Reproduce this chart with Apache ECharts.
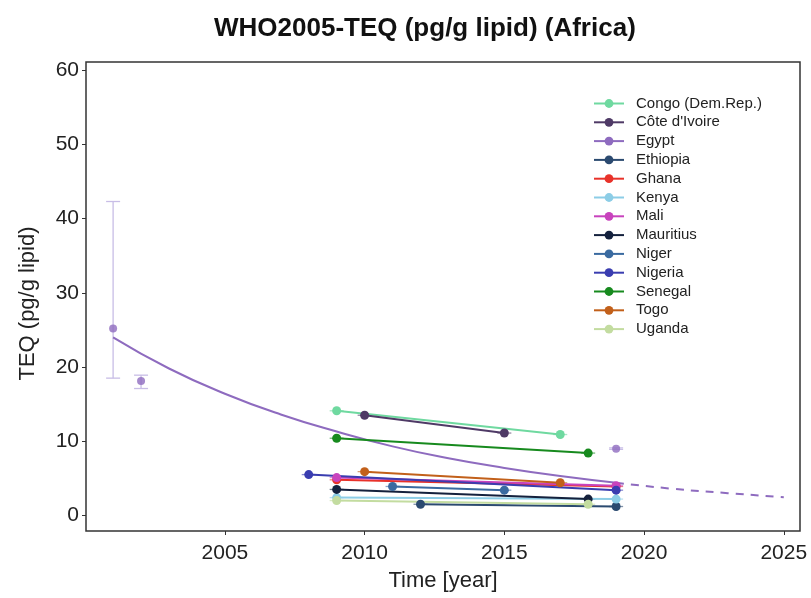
<!DOCTYPE html>
<html><head><meta charset="utf-8">
<script src="https://cdn.jsdelivr.net/npm/echarts@6/dist/echarts.min.js"></script>
<style>html,body{margin:0;padding:0;background:#fff}#c{width:811px;height:598px}</style>
</head><body><div id="c"></div>
<script>
// ---- data ----
const countries = ['Congo (Dem.Rep.)', "Côte d'Ivoire", 'Egypt', 'Ethiopia', 'Ghana', 'Kenya', 'Mali', 'Mauritius', 'Niger', 'Nigeria', 'Senegal', 'Togo', 'Uganda'];
const countryColors = ['#6fd9a0', '#4f3a66', '#8e6bbf', '#2b4a70', '#e8322a', '#8ccde6', '#c843bd', '#14213d', '#3a6aa0', '#3a3db0', '#178a1e', '#c2601a', '#c3dca0'];

const congo      = [[2009, 14.1], [2017, 10.9]];
const coteIvoire = [[2010, 13.5], [2015, 11.1]];
const ethiopia   = [[2012, 1.5], [2019, 1.2]];
const ghana      = [[2009, 4.8], [2019, 3.9]];
const kenya      = [[2009, 2.4], [2019, 2.2]];
const mali       = [[2009, 5.1], [2019, 4.0]];
const mauritius  = [[2009, 3.5], [2018, 2.2]];
const niger      = [[2011, 3.9], [2015, 3.4]];
const nigeria    = [[2008, 5.5], [2019, 3.4]];
const senegal    = [[2009, 10.4], [2018, 8.4]];
const togo       = [[2010, 5.9], [2017, 4.4]];
const uganda     = [[2009, 2.0], [2018, 1.5]];

const egyptYears   = [2001, 2002, 2019];
const egyptValues  = [25.2, 18.1, 9.0];
const egyptErrLow  = [18.5, 17.1, 8.9];
const egyptErrHigh = [42.3, 18.9, 9.1];

const egyptFitYears  = [2001, 2003, 2005, 2007, 2009, 2011, 2013, 2015, 2017, 2019];
const egyptFitValues = [24.0, 19.8, 16.4, 13.6, 11.3, 9.3, 7.7, 6.4, 5.3, 4.4];
const egyptForecastYears  = [2019, 2021, 2023, 2025];
const egyptForecastValues = [4.4, 3.6, 3.0, 2.45];

const xTickLabels = [2005, 2010, 2015, 2020, 2025];
const yTickLabels = [0, 10, 20, 30, 40, 50, 60];

// ---- build ----
const FONT = 'Liberation Sans';
const colorOf = name => countryColors[countries.indexOf(name)];
const countrySeriesData = [
  ['Congo (Dem.Rep.)', congo], ["Côte d'Ivoire", coteIvoire], ['Ethiopia', ethiopia],
  ['Ghana', ghana], ['Kenya', kenya], ['Mali', mali], ['Mauritius', mauritius],
  ['Niger', niger], ['Nigeria', nigeria], ['Senegal', senegal], ['Togo', togo], ['Uganda', uganda]
];

const series = [];
series.push({
  name: 'Egypt', type: 'line', data: egyptFitYears.map((y, i) => [y, egyptFitValues[i]]),
  smooth: true, symbol: 'circle', showSymbol: false, color: colorOf('Egypt'),
  lineStyle: { width: 2, color: colorOf('Egypt') }, z: 3, silent: true
});
series.push({
  name: 'Egypt', type: 'line', data: egyptForecastYears.map((y, i) => [y, egyptForecastValues[i]]),
  smooth: true, showSymbol: false, color: colorOf('Egypt'),
  lineStyle: { width: 2, type: [8, 7], color: colorOf('Egypt') }, z: 3, silent: true
});
series.push({
  name: 'Egypt', type: 'custom', z: 2, silent: true,
  data: egyptYears.map((y, i) => [y, egyptErrLow[i], egyptErrHigh[i]]),
  renderItem: function (params, api) {
    const x = api.value(0);
    const p1 = api.coord([x, api.value(1)]);
    const p2 = api.coord([x, api.value(2)]);
    const w = 7;
    const st = { stroke: '#c8bde6', lineWidth: 1.3 };
    return { type: 'group', children: [
      { type: 'line', shape: { x1: p1[0], y1: p1[1], x2: p2[0], y2: p2[1] }, style: st },
      { type: 'line', shape: { x1: p1[0] - w, y1: p1[1], x2: p1[0] + w, y2: p1[1] }, style: st },
      { type: 'line', shape: { x1: p2[0] - w, y1: p2[1], x2: p2[0] + w, y2: p2[1] }, style: st }
    ]};
  }
});
series.push({
  name: 'Egypt', type: 'scatter', data: egyptYears.map((y, i) => [y, egyptValues[i]]),
  symbol: 'circle', symbolSize: 8, itemStyle: { color: colorOf('Egypt') }, z: 4
});

countrySeriesData.forEach(([name, pts]) => {
  const c = colorOf(name);
  series.push({
    name, type: 'line', data: pts, symbol: 'circle', symbolSize: 9, showSymbol: true,
    color: c, itemStyle: { color: c }, lineStyle: { width: 2, color: c }, z: 4
  });
  series.push({
    name, type: 'custom', silent: true, z: 3, data: pts,
    renderItem: function (params, api) {
      const p = api.coord([api.value(0), api.value(1)]);
      return { type: 'line', shape: { x1: p[0] - 7, y1: p[1], x2: p[0] + 7, y2: p[1] },
        style: { stroke: c, lineWidth: 1.3, opacity: 0.6 } };
    }
  });
});

const chart = echarts.init(document.getElementById('c'), null, { renderer: 'canvas' });
chart.setOption({
  backgroundColor: '#fff',
  animation: false,
  title: {
    text: 'WHO2005-TEQ (pg/g lipid) (Africa)', left: 209, top: 11,
    textStyle: { fontFamily: FONT, fontSize: 26, fontWeight: 'bold', color: '#111' }
  },
  legend: {
    data: countries, orient: 'vertical', left: 588, top: 91,
    itemWidth: 30, itemHeight: 11, itemGap: 3.8, selectedMode: false,
    textStyle: { fontFamily: FONT, fontSize: 15, color: '#222', lineHeight: 15, padding: [0, 0, 0, 7] }
  },
  grid: { left: 86, right: 11, top: 62, bottom: 67, show: true, borderColor: '#333', borderWidth: 1.5, containLabel: false },
  xAxis: {
    type: 'value', min: 2000.03, max: 2025.58,
    name: 'Time [year]', nameLocation: 'middle', nameGap: 39,
    nameTextStyle: { fontFamily: FONT, fontSize: 22, color: '#222' },
    axisLine: { show: false, onZero: false },
    axisTick: { show: true, length: 4, lineStyle: { color: '#333' }, customValues: xTickLabels },
    axisLabel: { customValues: xTickLabels, formatter: v => String(Math.round(v)), fontFamily: FONT, fontSize: 21, color: '#222', margin: 12 },
    splitLine: { show: false }
  },
  yAxis: {
    type: 'value', min: -2.1, max: 61.1,
    name: 'TEQ (pg/g lipid)', nameLocation: 'middle', nameGap: 47,
    nameTextStyle: { fontFamily: FONT, fontSize: 22, color: '#222', padding: [0, 14, 0, 0] },
    axisLine: { show: false, onZero: false },
    axisTick: { show: true, length: 4, lineStyle: { color: '#333' }, customValues: yTickLabels },
    axisLabel: { customValues: yTickLabels, fontFamily: FONT, fontSize: 21, color: '#222', margin: 7 },
    splitLine: { show: false }
  },
  series
});
</script></body></html>
